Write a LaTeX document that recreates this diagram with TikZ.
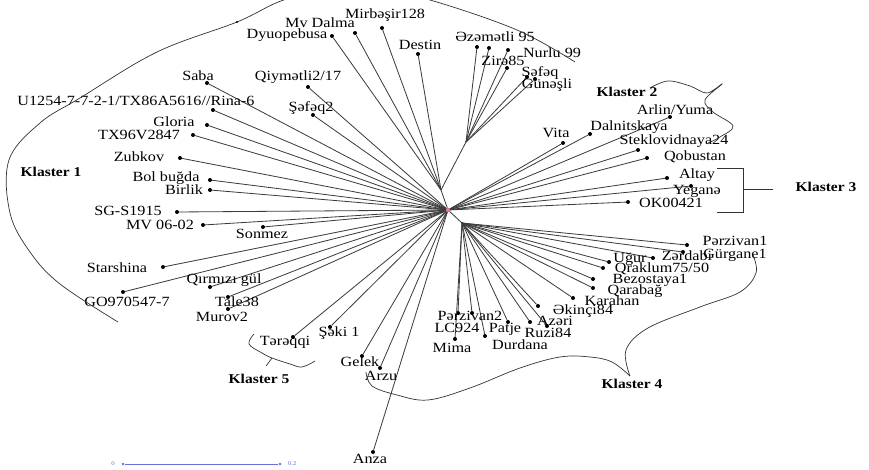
\documentclass[tikz,border=0pt]{standalone}
\usepackage{fontspec}
\setmainfont{Liberation Serif}[FakeStretch=1.15]
\usetikzlibrary{positioning}
\definecolor{branchc}{RGB}{60,60,60}
\definecolor{hubc}{RGB}{230,120,140}
\definecolor{scalec}{RGB}{110,110,215}

\begin{document}
\begin{tikzpicture}[x=0.3mm, y=-0.3mm, font=\fontsize{12}{14}\selectfont,
  branch/.style={branchc, line width=0.7pt},
  leaf/.style={circle, fill=black, inner sep=0pt, minimum size=3.4pt},
  lbl/.style={inner sep=0pt},
  klaster/.style={font=\fontsize{11.5}{13}\selectfont\bfseries, inner sep=0pt},
  outline/.style={black!80, line width=0.6pt}]
  \clip (0,0) rectangle (869,470);
  % inner nodes of the tree
  \coordinate (H) at (448,210);
  \coordinate (A) at (441,190);
  \coordinate (B) at (466,142);
  \coordinate (C) at (462,223);
  \draw[branch] (H) -- (A) -- (B);
  \draw[branch] (H) -- (C);
  % leaves: name/x/y/parent
  \foreach \n/\x/\y/\p in {dyu/332/36/A, mvd/355/33/A, mir/382/28/A, des/418/54/A,
      eze/477/47/B, alc/489/48/B, nur/508/50/B, zir/507/68/B, sef/527/77/B, gun/535/79/B,
      vit/563/143/H, dal/590/134/H, arl/670/117/H, ste/638/150/H, qob/647/158/H,
      alt/667/178/H, yeg/691/186/H, okk/628/202/H,
      pzb/687/245/C, gur/683/252/C, zer/653/258/C, ugu/609/262/C, qra/603/268/C,
      bez/593/279/C, qar/593/288/C, kar/573/298/C, eki/538/306/C, aze/530/322/C,
      ruz/547/326/C, pat/508/322/C, dur/485/336/C, lcn/472/313/C, pza/458/313/C,
      mim/455/339/C,
      anz/373/452/H, arz/380/368/H, gel/362/356/H, sek/330/327/H, ter/293/337/H,
      mur/228/309/H, tal/228/297/H, qir/210/287/H, gon/123/292/H, sta/163/267/H,
      son/263/227/H, mvo/203/225/H, sgs/177/212/H, bir/210/190/H, bol/210/180/H,
      zub/180/158/H, txn/193/135/H, glo/207/125/H, uot/213/110/H, sab/207/83/H,
      qiy/308/87/H, seb/313/115/H} {
    \node[leaf] (\n) at (\x,\y) {};
    \draw[branch] (\p) -- (\n);
  }
  \fill[hubc] (H) circle (2.2);
  % labels
  \foreach \n/\x/\y/\t in {dyu/287/35/Dyuopebusa, mvd/320/23/Mv Dalma, mir/385/15/Mirbəşir128,
      des/420/45/Destin, eze/495/37/Əzəmətli 95, nur/552/53/Nurlu 99, zir/503/61/Zirə85,
      sef/540/73/Şəfəq, gun/547/85/Günəşli,
      vit/556/133/Vita, dal/629/127/Dalnitskaya, arl/675/110/{Arlin/Yuma},
      ste/674/141/Steklovidnaya24, qob/695/157/Qobustan, alt/697/175/Altay,
      yeg/697/191/Yeganə, okk/671/203/OK00421,
      pzb/735/241/Pərzivan1, gur/735/255/Gürgane1, zer/687/256/Zərdabi, ugu/630/259/Uğur,
      qra/662/269/{Qraklum75/50}, bez/650/280/Bezostaya1, qar/635/291/Qarabağ,
      kar/612/301/Karahan, eki/583/311/Əkinçi84, aze/555/321/Azəri, ruz/548/333/Ruzi84,
      pat/505/329/Patje, dur/520/345/Durdana, lcn/457/328/LC924, pza/470/316/Pərzivan2,
      mim/452/348/Mima,
      anz/370/459/Anza, arz/381/376/Arzu, gel/360/362/Gelek, sek/339/333/Şəki 1,
      ter/285/342/Tərəqqi, mur/222/317/Murov2, tal/237/302/Tale38, qir/224/280/Qırmızı gül,
      gon/127/302/GO970547-7, sta/117/268/Starshina, son/262/234/Sonmez,
      mvo/160/225/MV 06-02, sgs/128/211/SG-S1915, bir/184/190/Birlik, bol/166/178/Bol buğda,
      zub/139/157/Zubkov, txn/139/135/TX96V2847, glo/174/122/Gloria,
      uot/136/101/{U1254-7-7-2-1/TX86A5616//Rina-6}, sab/198/76/Saba,
      qiy/298/77/{Qiymətli2/17}, seb/311/108/Şəfəq2}
    \node[lbl] (t-\n) at (\x,\y) {\t};
  % Klaster 1 outline
  \draw[outline] plot[smooth, tension=0.6] coordinates {(575,62) (517,30) (430,0) (365,-14)
    (290,-2) (237,22) (157,52) (80,98) (40,123) (9,160) (10,213) (30,252) (60,284) (118,322)};
  \fill (237,22) circle (1.2);
  \node[klaster] (k1) at (51,172) {Klaster 1};
  % Klaster 2 outline
  \draw[outline] plot[smooth, tension=0.6] coordinates {(650,88) (668,81) (690,86) (707,93)
    (722,84) (705,100) (713,112) (733,126) (720,137) (708,143)};
  \node[klaster] (k2) at (627,92) {Klaster 2};
  % Klaster 3 bracket
  \draw[outline] (717,168) -- (743,168) -- (743,212) -- (717,212);
  \draw[outline] (743,189) -- (773,189);
  \node[klaster] (k3) at (826,187) {Klaster 3};
  % Klaster 4 outline
  \draw[outline] plot[smooth, tension=0.6] coordinates {(366,372) (372,386) (397,395) (428,400)
    (470,388) (520,368) (560,357) (590,357) (612,362) (630,376)};
  \draw[outline] plot[smooth, tension=0.6] coordinates {(630,376) (626,350) (648,328)
    (700,307) (740,292) (756,273) (753,255)};
  \node[klaster] (k4) at (632,384) {Klaster 4};
  % Klaster 5 outline
  \draw[outline] plot[smooth, tension=0.6] coordinates {(254,334) (249,344) (262,353)
    (272,358) (290,364) (302,367) (315,361)};
  \draw[outline] (272,358) -- (266,366);
  \node[klaster] (k5) at (259,379) {Klaster 5};
  % scale bar
  \node[circle, fill=scalec, inner sep=0pt, minimum size=2.5pt] (s0) at (123,464) {};
  \node[circle, fill=scalec, inner sep=0pt, minimum size=2.5pt] (s1) at (280,464) {};
  \draw[scalec, line width=0.8pt] (s0) -- (s1);
  \node[scalec, font=\tiny, left=2pt of s0] (s0t) {0};
  \node[scalec, font=\tiny, right=2pt of s1] (s1t) {0.2};
\end{tikzpicture}
\end{document}
